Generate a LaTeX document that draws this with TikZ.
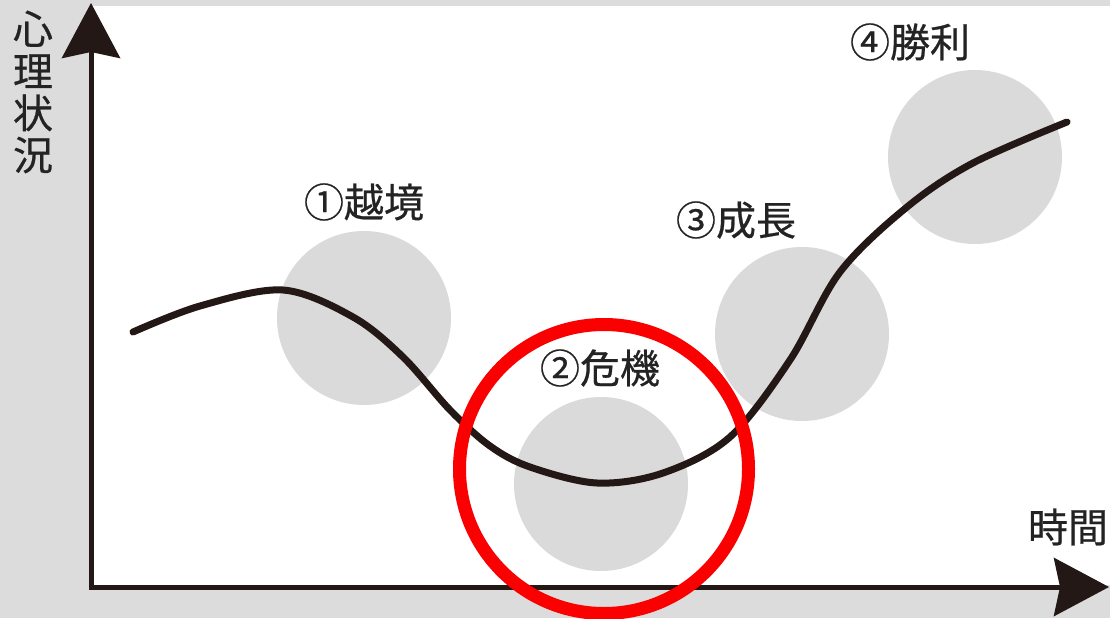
\documentclass[tikz,border=0pt]{standalone}
\usepackage{fontspec}
\newfontfamily\jp[FakeBold=0.6]{Noto Sans CJK JP}
\usetikzlibrary{arrows.meta}
\definecolor{bggray}{RGB}{220,220,220}
\definecolor{blobgray}{RGB}{218,218,218}
\definecolor{ink}{RGB}{35,24,21}
\definecolor{txt}{RGB}{35,35,35}
\definecolor{hired}{RGB}{250,0,0}
\tikzset{
  blob/.style={circle, fill=blobgray, minimum size=174pt, inner sep=0pt},
  lbl/.style={font=\jp\fontsize{40}{42}\selectfont, text=txt, inner sep=0pt},
  axis/.style={draw=ink, line width=5pt, -{Stealth[length=55pt, width=58pt, inset=6pt]}},
  curve/.style={draw=ink, line width=7pt, line cap=round, line join=round},
  ring/.style={circle, draw=hired, line width=13pt, minimum size=289pt, inner sep=0pt}
}
\begin{document}
\begin{tikzpicture}[x=1pt, y=-1pt]
\useasboundingbox (0,0) rectangle (1110,618);
\fill[bggray] (0,0) rectangle (1110,618);
\fill[white] (93,6) rectangle (1110,585);
% gray circles
\node[blob] (c1) at (364,318) {};
\node[blob] (c2) at (601,484) {};
\node[blob] (c3) at (802,334) {};
\node[blob] (c4) at (975,157) {};
% curve
\draw[curve] plot[smooth, tension=0.55] coordinates {(133,332) (200,306) (283,290) (353,317) (403,357) (450,410) (490,446) (530,467) (597,483) (663,473) (730,437) (790,360) (840,272) (907,207) (973,163) (1067,122)};
% axes
\coordinate (ytip) at (91,3);
\coordinate (xtip) at (1109,587);
\draw[axis] (91,589.5) -- (ytip);
\draw[axis] (88.5,587) -- (xtip);
% labels
\node[lbl, align=center] (ylab) at (33,92) {心\\理\\状\\況};
\node[lbl] (xlab) at (1068,527) {時間};
\node[lbl] (l1) at (364,202) {①越境};
\node[lbl] (l2) at (600,368) {②危機};
\node[lbl] (l3) at (736,220) {③成長};
\node[lbl] (l4) at (910,42) {④勝利};
% red ring
\node[ring] (ring) at (604,469) {};
\end{tikzpicture}
\end{document}
